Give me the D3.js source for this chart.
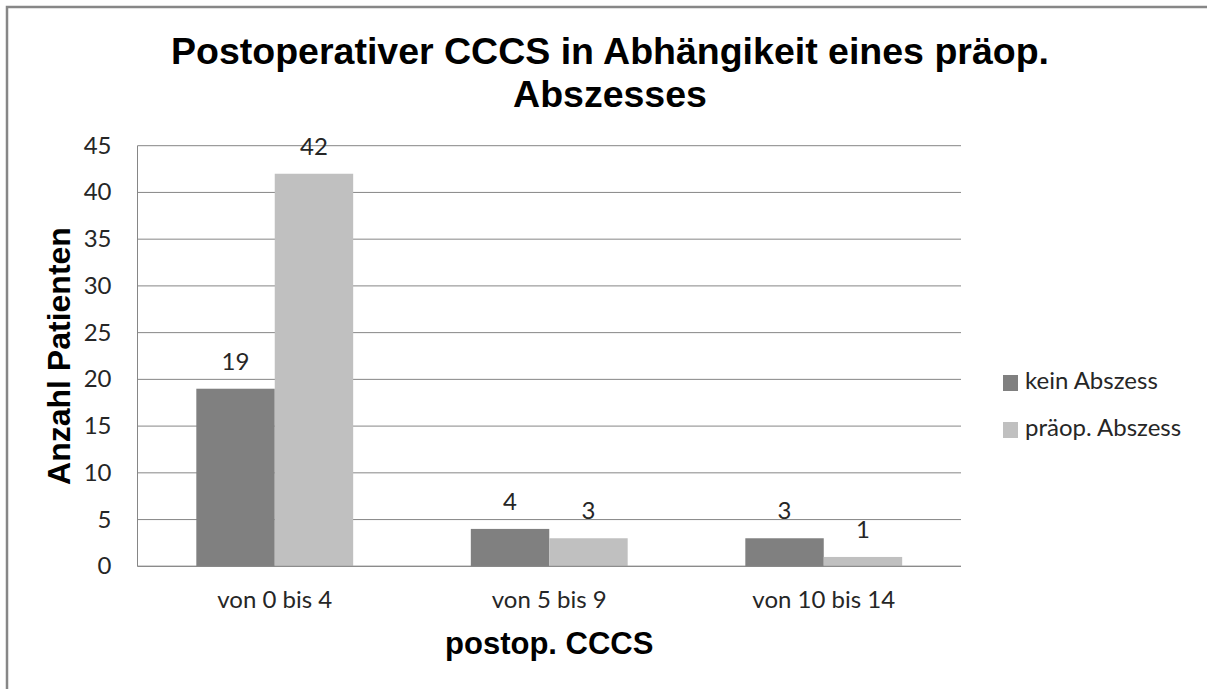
<!DOCTYPE html>
<html>
<head>
<meta charset="utf-8">
<script src="https://cdn.jsdelivr.net/npm/d3@7"></script>
<style>
  html, body { margin: 0; padding: 0; background: #fff; overflow: hidden; }
  svg { display: block; }
</style>
</head>
<body>
<div id="chart"></div>
<script>
var categories = ["von 0 bis 4", "von 5 bis 9", "von 10 bis 14"];
var seriesNames = ["kein Abszess", "präop. Abszess"];
var keinAbszess = [19, 4, 3];
var praeopAbszess = [42, 3, 1];
var yTicks = [0, 5, 10, 15, 20, 25, 30, 35, 40, 45];
var titleLines = ["Postoperativer CCCS in Abhängikeit eines präop.", "Abszesses"];

var colors = {"kein Abszess": "#808080", "präop. Abszess": "#c0c0c0"};
var labelFont = "Lato, 'Open Sans', sans-serif";
var boldFont = "'Liberation Sans', Arial, sans-serif";

var width = 1207, height = 689;
var plot = {left: 137.5, right: 961, top: 145.7, bottom: 566.3};

var svg = d3.select("#chart").append("svg")
    .attr("width", width)
    .attr("height", height);

// chart area border: only the top and left edges are inside the picture
svg.append("path")
    .attr("d", "M7," + (height + 5) + "V7H" + (width + 5))
    .style("fill", "none")
    .style("stroke", "#878787")
    .style("stroke-width", 2.5);

var x0 = d3.scaleBand().domain(categories).range([plot.left, plot.right]).padding(0);
var x1 = d3.scaleBand().domain(seriesNames).range([0, x0.bandwidth()])
    .paddingInner(0).paddingOuter(0.75);
var y = d3.scaleLinear().domain([0, 45]).range([plot.bottom, plot.top]);

// gridlines
svg.selectAll(".grid")
    .data(yTicks)
    .enter()
    .append("line")
    .attr("x1", plot.left).attr("x2", plot.right)
    .attr("y1", function(d){ return y(d) }).attr("y2", function(d){ return y(d) })
    .style("stroke", "#868686")
    .style("stroke-width", 1);

// y axis line
svg.append("line")
    .attr("x1", plot.left).attr("x2", plot.left)
    .attr("y1", y(45)).attr("y2", y(0))
    .style("stroke", "#868686")
    .style("stroke-width", 1);

// y tick labels
svg.selectAll(".ytick")
    .data(yTicks)
    .enter()
    .append("text")
    .attr("x", plot.left - 26)
    .attr("y", function(d){ return y(d) + 8 })
    .attr("text-anchor", "end")
    .style("font-family", labelFont)
    .style("font-size", "24px")
    .style("fill", "#262626")
    .text(function(d){ return d });

// category labels
svg.selectAll(".xtick")
    .data(categories)
    .enter()
    .append("text")
    .attr("x", function(d){ return x0(d) + x0.bandwidth() / 2 })
    .attr("y", plot.bottom + 42)
    .attr("text-anchor", "middle")
    .style("font-family", labelFont)
    .style("font-size", "24px")
    .style("fill", "#262626")
    .text(function(d){ return d });

var rows = [];
categories.forEach(function(c, i){
    rows.push({cat: c, series: "kein Abszess", value: keinAbszess[i]});
    rows.push({cat: c, series: "präop. Abszess", value: praeopAbszess[i]});
});

svg.selectAll(".bar")
    .data(rows)
    .enter()
    .append("rect")
    .attr("x", function(d){ return x0(d.cat) + x1(d.series) })
    .attr("y", function(d){ return y(d.value) })
    .attr("width", x1.bandwidth())
    .attr("height", function(d){ return y(0) - y(d.value) })
    .style("fill", function(d){ return colors[d.series] });

svg.selectAll(".vlabel")
    .data(rows)
    .enter()
    .append("text")
    .attr("x", function(d){ return x0(d.cat) + x1(d.series) + x1.bandwidth() / 2 })
    .attr("y", function(d){ return y(d.value) - 19 })
    .attr("text-anchor", "middle")
    .style("font-family", labelFont)
    .style("font-size", "24px")
    .style("fill", "#262626")
    .text(function(d){ return d.value });

// x axis line on top of bars
svg.append("line")
    .attr("x1", plot.left).attr("x2", plot.right)
    .attr("y1", y(0)).attr("y2", y(0))
    .style("stroke", "#868686")
    .style("stroke-width", 1);

// title
svg.selectAll(".title")
    .data(titleLines)
    .enter()
    .append("text")
    .attr("x", 610)
    .attr("y", function(d, i){ return 64 + i * 43 })
    .attr("text-anchor", "middle")
    .style("font-family", boldFont)
    .style("font-weight", "bold")
    .style("font-size", "37.5px")
    .style("fill", "#000")
    .text(function(d){ return d });

// axis titles
svg.append("text")
    .attr("x", (plot.left + plot.right) / 2)
    .attr("y", 654)
    .attr("text-anchor", "middle")
    .style("font-family", boldFont)
    .style("font-weight", "bold")
    .style("font-size", "31px")
    .text("postop. CCCS");

svg.append("text")
    .attr("transform", "translate(70," + ((plot.top + plot.bottom) / 2) + ") rotate(-90)")
    .attr("text-anchor", "middle")
    .style("font-family", boldFont)
    .style("font-weight", "bold")
    .style("font-size", "32px")
    .text("Anzahl Patienten");

// legend
var legend = svg.selectAll(".legend")
    .data(seriesNames)
    .enter()
    .append("g")
    .attr("transform", function(d, i){ return "translate(1003," + (375 + i * 47) + ")" });
legend.append("rect")
    .attr("width", 15).attr("height", 16)
    .style("fill", function(d){ return colors[d] });
legend.append("text")
    .attr("x", 22)
    .attr("y", 14)
    .style("font-family", labelFont)
    .style("font-size", "24px")
    .style("fill", "#262626")
    .text(function(d){ return d });
</script>
</body>
</html>
